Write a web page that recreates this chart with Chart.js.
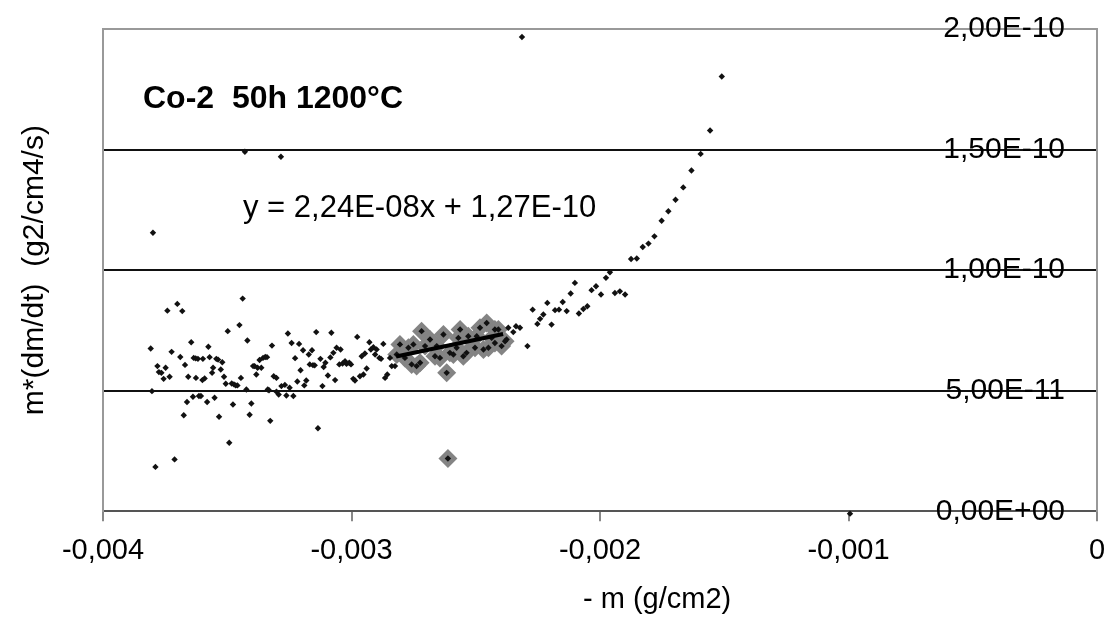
<!DOCTYPE html>
<html>
<head>
<meta charset="utf-8">
<script src="https://cdn.jsdelivr.net/npm/chart.js@4.4.1/dist/chart.umd.min.js"></script>
<style>
  body { margin: 0; background: #fff; }
  #wrap { width: 1111px; height: 626px; }
</style>
</head>
<body>
<div id="wrap"><canvas id="chart" width="1111" height="626"></canvas></div>
<script>
// x = -m (g/cm2), y = m*(dm/dt) (g2/cm4/s)
const leftCloud = [
    [-3.808e-3, 6.75e-11], [-3.803e-3, 4.98e-11], [-3.789e-3, 1.84e-11], [-3.781e-3, 6.02e-11],
    [-3.775e-3, 5.77e-11], [-3.765e-3, 5.74e-11], [-3.756e-3, 5.49e-11], [-3.748e-3, 5.95e-11],
    [-3.741e-3, 8.32e-11], [-3.732e-3, 5.58e-11], [-3.724e-3, 6.61e-11], [-3.712e-3, 2.15e-11],
    [-3.701e-3, 8.60e-11], [-3.689e-3, 6.40e-11], [-3.681e-3, 8.30e-11], [-3.675e-3, 3.98e-11],
    [-3.670e-3, 6.07e-11], [-3.662e-3, 4.53e-11], [-3.657e-3, 5.58e-11], [-3.645e-3, 7.01e-11],
    [-3.638e-3, 4.75e-11], [-3.635e-3, 6.36e-11], [-3.627e-3, 6.34e-11], [-3.626e-3, 5.53e-11],
    [-3.618e-3, 6.32e-11], [-3.614e-3, 4.78e-11], [-3.606e-3, 4.78e-11], [-3.600e-3, 5.44e-11],
    [-3.598e-3, 6.32e-11], [-3.591e-3, 5.51e-11], [-3.581e-3, 4.53e-11], [-3.576e-3, 6.82e-11],
    [-3.571e-3, 6.39e-11], [-3.561e-3, 5.74e-11], [-3.557e-3, 5.95e-11], [-3.551e-3, 4.71e-11],
    [-3.544e-3, 6.32e-11], [-3.537e-3, 6.29e-11], [-3.533e-3, 3.92e-11], [-3.526e-3, 5.88e-11],
    [-3.520e-3, 6.18e-11], [-3.513e-3, 5.58e-11], [-3.506e-3, 5.29e-11], [-3.498e-3, 7.47e-11],
    [-3.492e-3, 2.84e-11], [-3.482e-3, 5.30e-11], [-3.477e-3, 4.43e-11], [-3.473e-3, 5.26e-11],
    [-3.466e-3, 5.22e-11], [-3.459e-3, 5.22e-11], [-3.451e-3, 7.72e-11], [-3.445e-3, 5.53e-11],
    [-3.438e-3, 8.82e-11], [-3.423e-3, 5.05e-11], [-3.419e-3, 7.08e-11], [-3.410e-3, 4.00e-11],
    [-3.403e-3, 4.47e-11], [-3.396e-3, 6.02e-11], [-3.390e-3, 6.02e-11], [-3.383e-3, 5.67e-11],
    [-3.378e-3, 5.95e-11], [-3.370e-3, 6.27e-11], [-3.363e-3, 5.95e-11], [-3.356e-3, 6.36e-11],
    [-3.347e-3, 6.40e-11], [-3.340e-3, 6.39e-11], [-3.337e-3, 5.05e-11], [-3.332e-3, 5.02e-11],
    [-3.327e-3, 3.75e-11], [-3.320e-3, 6.87e-11], [-3.313e-3, 5.60e-11], [-3.302e-3, 5.53e-11],
    [-3.302e-3, 4.96e-11], [-3.293e-3, 4.84e-11], [-3.282e-3, 5.19e-11], [-3.268e-3, 5.24e-11],
    [-3.262e-3, 4.80e-11], [-3.256e-3, 7.37e-11], [-3.249e-3, 5.12e-11], [-3.241e-3, 6.98e-11],
    [-3.234e-3, 4.78e-11], [-3.227e-3, 6.35e-11], [-3.218e-3, 5.38e-11], [-3.211e-3, 6.94e-11],
    [-3.205e-3, 5.85e-11], [-3.195e-3, 6.68e-11], [-3.190e-3, 5.22e-11], [-3.182e-3, 5.42e-11],
    [-3.172e-3, 6.50e-11], [-3.168e-3, 6.09e-11], [-3.159e-3, 6.68e-11], [-3.155e-3, 6.06e-11],
    [-3.148e-3, 6.05e-11], [-3.142e-3, 7.43e-11], [-3.135e-3, 3.44e-11], [-3.125e-3, 6.32e-11],
    [-3.117e-3, 5.19e-11], [-3.112e-3, 5.98e-11], [-3.105e-3, 6.16e-11], [-3.095e-3, 5.63e-11],
    [-3.085e-3, 6.38e-11], [-3.081e-3, 7.40e-11]
];

const midCloud = [
    [-3.073e-3, 6.57e-11], [-3.066e-3, 5.44e-11], [-3.060e-3, 6.78e-11], [-3.049e-3, 6.09e-11],
    [-3.044e-3, 6.71e-11], [-3.036e-3, 6.13e-11], [-3.026e-3, 6.22e-11], [-3.020e-3, 6.11e-11],
    [-3.009e-3, 6.16e-11], [-3.002e-3, 6.09e-11], [-2.993e-3, 5.49e-11], [-2.986e-3, 5.42e-11],
    [-2.977e-3, 7.23e-11], [-2.966e-3, 5.60e-11], [-2.959e-3, 6.43e-11], [-2.952e-3, 5.67e-11],
    [-2.946e-3, 6.54e-11], [-2.939e-3, 5.92e-11], [-2.928e-3, 7.01e-11], [-2.922e-3, 6.71e-11],
    [-2.912e-3, 6.80e-11], [-2.905e-3, 6.50e-11], [-2.899e-3, 6.71e-11], [-2.888e-3, 6.36e-11],
    [-2.881e-3, 6.32e-11], [-2.872e-3, 6.94e-11], [-2.865e-3, 5.53e-11], [-2.856e-3, 5.67e-11],
    [-2.845e-3, 6.36e-11], [-2.838e-3, 6.02e-11], [-2.825e-3, 6.02e-11]
];

// points of the fitted range (grey diamonds)
const fitRange = [
    [-2.818e-3, 6.50e-11], [-2.805e-3, 6.92e-11], [-2.785e-3, 6.36e-11], [-2.771e-3, 6.78e-11],
    [-2.758e-3, 6.09e-11], [-2.751e-3, 6.92e-11], [-2.738e-3, 6.02e-11], [-2.724e-3, 6.16e-11],
    [-2.718e-3, 7.47e-11], [-2.704e-3, 6.85e-11], [-2.684e-3, 7.12e-11], [-2.664e-3, 6.43e-11],
    [-2.657e-3, 6.85e-11], [-2.644e-3, 6.36e-11], [-2.630e-3, 7.33e-11], [-2.617e-3, 5.74e-11],
    [-2.612e-3, 2.19e-11], [-2.604e-3, 6.57e-11], [-2.590e-3, 6.50e-11], [-2.577e-3, 6.78e-11],
    [-2.570e-3, 7.19e-11], [-2.563e-3, 7.54e-11], [-2.550e-3, 6.43e-11], [-2.537e-3, 6.57e-11],
    [-2.530e-3, 7.26e-11], [-2.503e-3, 6.78e-11], [-2.496e-3, 7.26e-11], [-2.483e-3, 7.61e-11],
    [-2.469e-3, 6.71e-11], [-2.456e-3, 7.81e-11], [-2.449e-3, 6.78e-11], [-2.436e-3, 7.19e-11],
    [-2.423e-3, 6.98e-11], [-2.423e-3, 7.54e-11], [-2.409e-3, 7.54e-11], [-2.396e-3, 6.85e-11],
    [-2.382e-3, 7.05e-11]
];

const risingCurve = [
    [-2.376e-3, 7.12e-11], [-2.369e-3, 7.61e-11], [-2.349e-3, 7.43e-11], [-2.338e-3, 7.67e-11],
    [-2.322e-3, 7.61e-11], [-2.292e-3, 6.85e-11], [-2.271e-3, 8.36e-11], [-2.252e-3, 7.77e-11],
    [-2.241e-3, 7.98e-11], [-2.228e-3, 8.16e-11], [-2.212e-3, 8.64e-11], [-2.195e-3, 7.74e-11],
    [-2.181e-3, 8.34e-11], [-2.165e-3, 8.36e-11], [-2.150e-3, 8.68e-11], [-2.134e-3, 8.30e-11],
    [-2.118e-3, 9.03e-11], [-2.101e-3, 9.47e-11], [-2.085e-3, 8.20e-11], [-2.067e-3, 8.39e-11],
    [-2.051e-3, 8.50e-11], [-2.034e-3, 9.17e-11], [-2.016e-3, 9.33e-11], [-1.996e-3, 8.99e-11],
    [-1.976e-3, 9.68e-11], [-1.960e-3, 9.91e-11], [-1.940e-3, 9.05e-11], [-1.920e-3, 9.12e-11],
    [-1.899e-3, 8.99e-11], [-1.875e-3, 10.46e-11], [-1.852e-3, 10.48e-11], [-1.828e-3, 10.96e-11],
    [-1.805e-3, 11.10e-11], [-1.781e-3, 11.40e-11], [-1.752e-3, 12.05e-11], [-1.725e-3, 12.44e-11],
    [-1.696e-3, 12.92e-11], [-1.665e-3, 13.43e-11], [-1.632e-3, 14.13e-11], [-1.595e-3, 14.82e-11],
    [-1.557e-3, 15.79e-11], [-1.510e-3, 18.03e-11]
];

const outliers = [
    [-3.799e-3, 11.55e-11], [-3.429e-3, 14.91e-11], [-3.284e-3, 14.70e-11],
    [-2.314e-3, 19.67e-11], [-0.994e-3, -0.10e-11]
];

// trendline end points, y = 2,24E-08x + 1,27E-10
const trendX = [-2.82e-3, -2.39e-3];
const trendY = [6.42e-11, 7.35e-11];

const xTickLabels = ['-0,004', '-0,003', '-0,002', '-0,001', '0'];
const yTickLabels = ['0,00E+00', '5,00E-11', '1,00E-10', '1,50E-10', '2,00E-10'];

const chartTitle = 'Co-2  50h 1200°C';
const equationText = 'y = 2,24E-08x + 1,27E-10';
const xTitle = '- m (g/cm2)';
const yTitle = 'm*(dm/dt)  (g2/cm4/s)';

const FONT = '"Liberation Sans", Arial, sans-serif';

function toPoints(list) {
    return list.map(function (p) { return { x: p[0], y: p[1] }; });
}

const allDots = toPoints(leftCloud.concat(midCloud, fitRange, risingCurve, outliers));
const trendPoints = trendX.map(function (x, i) { return { x: x, y: trendY[i] }; });

const textPlugin = {
    id: 'texts',
    afterDraw(chart) {
        const ctx = chart.ctx;
        ctx.save();
        ctx.fillStyle = '#000';
        ctx.textBaseline = 'alphabetic';
        ctx.textAlign = 'left';
        ctx.font = 'bold 32px ' + FONT;
        ctx.fillText(chartTitle, 143, 108);
        ctx.font = '31px ' + FONT;
        ctx.fillText(equationText, 243, 217);
        ctx.font = '29px ' + FONT;
        ctx.fillText(xTitle, 583, 608);
        ctx.restore();
    }
};

new Chart(document.getElementById('chart').getContext('2d'), {
    type: 'scatter',
    data: {
        datasets: [{
            type: 'line',
            data: trendPoints,
            borderColor: '#000',
            borderWidth: 4,
            pointRadius: 0,
            yAxisID: 'y'
        }, {
            data: allDots,
            pointStyle: 'rectRot',
            pointRadius: 3.2,
            backgroundColor: '#111',
            borderWidth: 0,
            clip: false,
            yAxisID: 'y'
        }, {
            data: toPoints(fitRange),
            pointStyle: 'rectRot',
            pointRadius: 9.5,
            backgroundColor: '#848484',
            borderWidth: 0,
            yAxisID: 'y'
        }]
    },
    options: {
        responsive: false,
        animation: false,
        layout: { padding: { top: 29, right: 14, bottom: 46, left: 0 } },
        plugins: { legend: { display: false }, tooltip: { enabled: false } },
        scales: {
            x: {
                type: 'linear',
                position: 'bottom',
                min: -0.004,
                max: 0,
                afterFit: function (scale) { scale.paddingRight = 0; },
                ticks: {
                    stepSize: 0.001,
                    padding: 4,
                    color: '#000',
                    font: { family: FONT, size: 29, lineHeight: 1.75 },
                    callback: function (v, i) { return xTickLabels[i]; }
                },
                grid: { drawOnChartArea: false, drawTicks: true, tickLength: 10, color: '#888', lineWidth: 2 },
                border: { color: '#555', width: 2 }
            },
            y: {
                type: 'linear',
                position: 'right',
                min: 0,
                max: 2e-10,
                ticks: {
                    stepSize: 5e-11,
                    mirror: true,
                    padding: -32,
                    color: '#000',
                    font: { family: FONT, size: 30 },
                    callback: function (v, i) { return yTickLabels[i]; }
                },
                grid: {
                    drawTicks: false,
                    lineWidth: 2,
                    color: function (c) {
                        if (c.index === 0) return '#555';
                        if (c.index === yTickLabels.length - 1) return '#999';
                        return '#111';
                    }
                },
                border: { color: '#999', width: 2 }
            },
            yL: {
                type: 'linear',
                position: 'left',
                min: 0,
                max: 2e-10,
                ticks: { display: false },
                grid: { drawOnChartArea: false, drawTicks: false },
                border: { color: '#999', width: 2 },
                title: {
                    display: true,
                    text: yTitle,
                    color: '#000',
                    font: { family: FONT, size: 30 },
                    padding: { top: 17, bottom: 50 }
                }
            }
        }
    },
    plugins: [textPlugin]
});
</script>
</body>
</html>
